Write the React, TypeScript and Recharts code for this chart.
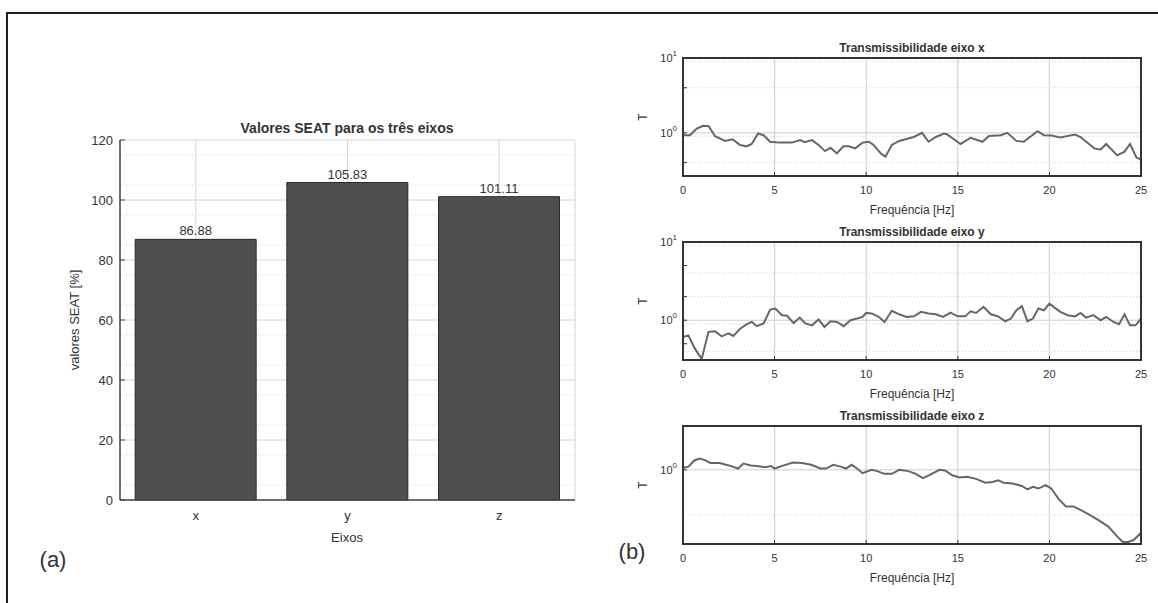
import React from 'react';
import { BarChart, Bar, LineChart, Line, XAxis, YAxis, CartesianGrid, LabelList } from 'recharts';

// SEAT bar chart
const axes = ['x', 'y', 'z'];
const seatValues = [86.88, 105.83, 101.11];
const seatTicks = [0, 20, 40, 60, 80, 100, 120];
const seatMinor = [5, 10, 15, 25, 30, 35, 45, 50, 55, 65, 70, 75, 85, 90, 95, 105, 110, 115];

// transmissibility plots
const freqTicks = [0, 5, 10, 15, 20, 25];
const freqGrid = [5, 10, 15, 20];
const logMajor = [1, 10];
const logMinor = [0.3, 0.4, 0.5, 0.6, 0.7, 0.8, 0.9, 2, 3, 4, 5, 6, 7, 8, 9];
const logAll = [0.3, 0.4, 0.5, 0.6, 0.7, 0.8, 0.9, 1, 2, 3, 4, 5, 6, 7, 8, 9, 10];
const zMinor = [0.5];

const freqX = [0, 0.38, 0.75, 1.1, 1.4, 1.75, 2.3, 2.7, 3.1, 3.45, 3.75, 4.1, 4.4, 4.75, 5.3, 5.95, 6.4, 6.65, 7.05, 7.4,
  7.75, 8.05, 8.4, 8.75, 9.05, 9.4, 9.8, 10.15, 10.4, 10.8, 11.05, 11.4, 11.8, 12.3, 12.6, 13.05, 13.4, 13.8, 14.25, 14.4,
  15.15, 15.7, 16.35, 16.7, 17.35, 17.7, 18.2, 18.6, 19.35, 19.7, 20.1, 20.6, 21.4, 21.7, 22.45, 22.8, 23.1, 23.7, 24.1, 24.4,
  24.75, 25];
const transX = [0.93, 0.93, 1.14, 1.24, 1.23, 0.9, 0.78, 0.82, 0.69, 0.66, 0.71, 0.98, 0.93, 0.76, 0.74, 0.74, 0.8, 0.75, 0.8, 0.69,
  0.57, 0.63, 0.53, 0.66, 0.66, 0.62, 0.74, 0.76, 0.69, 0.53, 0.48, 0.69, 0.78, 0.84, 0.88, 1.0, 0.76, 0.88, 0.98, 0.96,
  0.71, 0.86, 0.76, 0.91, 0.93, 1.0, 0.78, 0.76, 1.05, 0.93, 0.92, 0.87, 0.95, 0.88, 0.62, 0.6, 0.71, 0.5, 0.56, 0.71,
  0.47, 0.44];

const freqY = [0, 0.29, 0.66, 1.02, 1.39, 1.75, 2.12, 2.48, 2.75, 3.12, 3.49, 3.76, 4.03, 4.4, 4.76, 5.04, 5.4, 5.68, 6.04, 6.37,
  6.68, 7.04, 7.4, 7.72, 8.05, 8.41, 8.77, 9.14, 9.5, 9.8, 10.0, 10.3, 10.7, 11.0, 11.4, 11.8, 12.2, 12.6, 13.0, 13.4,
  13.8, 14.2, 14.6, 15.0, 15.4, 15.7, 16.0, 16.4, 16.8, 17.2, 17.6, 17.9, 18.2, 18.5, 18.8, 19.1, 19.4, 19.7, 20.0, 20.3,
  20.6, 21.0, 21.4, 21.7, 22.0, 22.4, 22.8, 23.1, 23.5, 23.8, 24.1, 24.4, 24.7, 25];
const transY = [0.61, 0.64, 0.43, 0.32, 0.71, 0.72, 0.62, 0.68, 0.63, 0.78, 0.89, 0.95, 0.84, 0.91, 1.37, 1.41, 1.16, 1.14, 0.92, 1.08,
  0.91, 0.86, 1.02, 0.82, 0.97, 0.95, 0.84, 1.0, 1.05, 1.1, 1.24, 1.22, 1.1, 0.95, 1.32, 1.19, 1.1, 1.12, 1.28, 1.22,
  1.19, 1.1, 1.25, 1.12, 1.12, 1.3, 1.24, 1.48, 1.19, 1.12, 0.97, 1.05, 1.34, 1.51, 0.97, 1.05, 1.41, 1.34, 1.63, 1.44,
  1.28, 1.16, 1.12, 1.24, 1.08, 1.16, 1.0, 1.1, 0.95, 0.89, 1.19, 0.86, 0.86, 1.05];

const freqZ = [0, 0.3, 0.6, 0.9, 1.2, 1.5, 2.0, 2.5, 3.0, 3.3, 3.7, 4.0, 4.5, 4.8, 5.0, 5.5, 6.0, 6.5, 7.0, 7.5,
  7.8, 8.2, 8.6, 8.9, 9.2, 9.5, 9.8, 10.3, 10.6, 11.0, 11.4, 11.8, 12.3, 12.7, 13.1, 13.5, 14.0, 14.3, 14.7, 15.1,
  15.5, 16.0, 16.5, 16.9, 17.2, 17.5, 18.0, 18.5, 18.8, 19.1, 19.4, 19.8, 20.1, 20.5, 20.9, 21.3, 21.7, 22.2, 22.7, 23.2,
  23.7, 24.0, 24.3, 24.6, 25];
const transZ = [1.03, 1.05, 1.15, 1.19, 1.16, 1.11, 1.11, 1.07, 1.02, 1.1, 1.07, 1.06, 1.04, 1.06, 1.02, 1.07, 1.12, 1.11, 1.08, 1.02,
  1.02, 1.08, 1.05, 1.02, 1.08, 1.02, 0.95, 1.0, 0.98, 0.94, 0.94, 1.0, 0.98, 0.94, 0.88, 0.93, 1.0, 0.99, 0.92, 0.89,
  0.9, 0.87, 0.82, 0.83, 0.85, 0.82, 0.81, 0.78, 0.74, 0.77, 0.75, 0.79, 0.75, 0.64, 0.57, 0.57, 0.54, 0.5, 0.46, 0.42,
  0.36, 0.33, 0.33, 0.34, 0.38];

const FONT = '"Liberation Sans", Arial, sans-serif';
const TXT = '#333';
const BOX = '#333';

const seatData = axes.map((a, i) => ({ axis: a, v: seatValues[i] }));
const toSeries = (f: number[], t: number[]) => f.map((x, i) => ({ f: x, t: t[i] }));

const Txt = ({ x, y, size, bold, rotate, children }: any) => (
  <div
    style={{
      position: 'absolute', left: x, top: y, fontSize: size, fontWeight: bold ? 'bold' : 'normal',
      color: TXT, whiteSpace: 'nowrap', fontFamily: FONT,
      transform: `translate(-50%, -50%)${rotate ? ' rotate(-90deg)' : ''}`,
    }}
  >
    {children}
  </div>
);

const PowTick = (props: any) => {
  const { x, y, payload } = props;
  const v = payload.value;
  if (v !== 1 && v !== 10) return null;
  const exp = Math.round(Math.log10(v));
  return (
    <text x={x} y={y} dy={4} textAnchor="end" fontSize={11} fill={TXT} fontFamily={FONT}>
      10<tspan dy={-6} fontSize={8}>{exp}</tspan>
    </text>
  );
};

// plot area of the right-hand charts: x 683..1141, height 118
const TransPlot = ({ top, data, domain, ticks, minor, major }: any) => (
  <>
    <div style={{ position: 'absolute', left: 600, top: top - 30 }}>
      <LineChart width={558} height={192} data={data} margin={{ top: 30, right: 17, bottom: 19, left: 33 }}>
        <CartesianGrid stroke="#d0d0d0" strokeDasharray="1 2" vertical={false} horizontalValues={minor} />
        <CartesianGrid stroke="#cccccc" horizontalValues={major} verticalValues={freqGrid} />
        <XAxis
          type="number" dataKey="f" domain={[0, 25]} ticks={freqTicks} height={25}
          tickSize={-4} tickMargin={14} stroke={BOX} tick={{ fontSize: 11, fill: TXT, fontFamily: FONT }} allowDataOverflow
        />
        <YAxis
          scale="log" dataKey="t" domain={domain} allowDataOverflow ticks={ticks} width={50}
          tickSize={-4} tickMargin={10} stroke={BOX} tick={<PowTick />}
        />
        <Line type="linear" dataKey="t" stroke="#666" strokeWidth={2} dot={false} isAnimationActive={false} />
      </LineChart>
    </div>
    <div
      style={{
        position: 'absolute', left: 682, top: top - 1, width: 460, height: 120,
        boxSizing: 'border-box', border: `2px solid ${BOX}`, pointerEvents: 'none',
      }}
    />
  </>
);

const App = () => {
  const plots = [
    { top: 58, title: 'Transmissibilidade eixo x', data: toSeries(freqX, transX), domain: [0.265, 10], ticks: logAll, minor: logMinor },
    { top: 242, title: 'Transmissibilidade eixo y', data: toSeries(freqY, transY), domain: [0.31, 10], ticks: logAll, minor: logMinor },
    { top: 426, title: 'Transmissibilidade eixo z', data: toSeries(freqZ, transZ), domain: [0.32, 1.96], ticks: [1], minor: zMinor },
  ];

  return (
    <div style={{ position: 'absolute', left: 0, top: 0, width: 1158, height: 603, background: '#fff', overflow: 'hidden', fontFamily: FONT }}>
      <div style={{ position: 'absolute', left: 6, top: 12, width: 1200, height: 700, border: '2px solid #1e1e1e' }} />

      {/* (a) SEAT bars */}
      <div style={{ position: 'absolute', left: 0, top: 100 }}>
        <BarChart width={600} height={470} data={seatData} margin={{ top: 40, right: 25, bottom: 40, left: 60 }} barCategoryGap="10%">
          <CartesianGrid stroke="#d9d9d9" strokeDasharray="1 2" vertical={false} horizontalValues={seatMinor} />
          <CartesianGrid stroke="#d4d4d4" />
          <XAxis
            dataKey="axis" height={30} tickSize={-5} tickMargin={16} stroke="#444"
            axisLine={{ stroke: '#444', strokeWidth: 1.5 }} tick={{ fontSize: 13, fill: TXT, fontFamily: FONT }}
          />
          <XAxis
            xAxisId="top" dataKey="axis" orientation="top" height={0} tickSize={-5} tick={false}
            stroke="#444" axisLine={{ stroke: '#444', strokeWidth: 1.5 }}
          />
          <YAxis
            domain={[0, 120]} ticks={seatTicks} width={60} tickSize={-5} tickMargin={12} stroke="#444"
            axisLine={{ stroke: '#444', strokeWidth: 1.5 }} tick={{ fontSize: 13, fill: TXT, fontFamily: FONT }}
          />
          <YAxis
            yAxisId="r" orientation="right" domain={[0, 120]} ticks={seatTicks} width={0} tickSize={-5} tick={false}
            stroke="#444" axisLine={{ stroke: '#444', strokeWidth: 1.5 }}
          />
          <Bar dataKey="v" fill="#4f4f51" stroke="#2a2a2a" strokeWidth={1} isAnimationActive={false}>
            <LabelList
              dataKey="v" position="top" offset={4} fontSize={13} fill={TXT} fontFamily={FONT}
              formatter={(v: any) => Number(v).toFixed(2)}
            />
          </Bar>
        </BarChart>
      </div>
      <Txt x={347} y={128} size={14} bold>Valores SEAT para os três eixos</Txt>
      <Txt x={74} y={320} size={13} rotate>valores SEAT [%]</Txt>
      <Txt x={347} y={537} size={13}>Eixos</Txt>
      <Txt x={53} y={560} size={22}>(a)</Txt>

      {/* (b) transmissibility */}
      {plots.map((p) => (
        <React.Fragment key={p.title}>
          <TransPlot top={p.top} data={p.data} domain={p.domain} ticks={p.ticks} minor={p.minor} major={logMajor} />
          <Txt x={912} y={p.top - 10} size={12} bold>{p.title}</Txt>
          <Txt x={912} y={p.top + 152} size={12}>Frequência [Hz]</Txt>
          <Txt x={643} y={p.top + 59} size={12} rotate>T</Txt>
        </React.Fragment>
      ))}
      <Txt x={632} y={552} size={22}>(b)</Txt>
    </div>
  );
};

export default App;
